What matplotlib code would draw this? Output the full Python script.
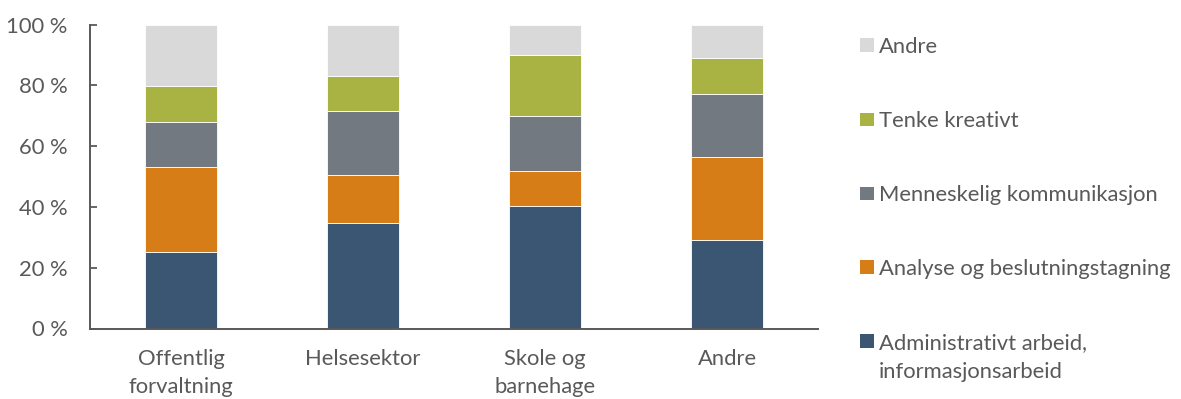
import matplotlib
matplotlib.use("Agg")
import matplotlib.pyplot as plt
import numpy as np
from matplotlib.patches import Rectangle

plt.rcParams['font.family'] = ['Lato', 'DejaVu Sans']

categories = ["Offentlig\nforvaltning", "Helsesektor", "Skole og\nbarnehage", "Andre"]
series = ["Administrativt arbeid,\ninformasjonsarbeid", "Analyse og beslutningstagning",
          "Menneskelig kommunikasjon", "Tenke kreativt", "Andre"]
admin = [25.2, 34.8, 40.2, 29.0]
analyse = [28.0, 15.7, 11.7, 27.5]
menneskelig = [14.9, 21.2, 18.0, 20.6]
kreativt = [11.8, 11.4, 20.2, 12.0]
andre = [20.1, 16.9, 9.9, 10.9]
values = [admin, analyse, menneskelig, kreativt, andre]
colors = ["#3A5673", "#D77D17", "#737980", "#A8B343", "#D9D9D9"]

txt = "#595959"
fs = 15.8

fig = plt.figure(figsize=(11.81, 3.99), dpi=100)
ax = fig.add_axes([90/1181, 70.5/399, 728/1181, 303.8/399])

x = np.arange(len(categories))
bottom = np.zeros(len(categories))
for vals, col in zip(values, colors):
    ax.bar(x, vals, width=0.4, bottom=bottom, color=col, edgecolor="white", linewidth=0.6)
    bottom += np.array(vals)

ax.set_xlim(-0.5, 3.5)
ax.set_ylim(0, 100)
ax.set_yticks(np.arange(0, 101, 20))
ax.set_yticklabels([f"{v} %" for v in range(0, 101, 20)])
ax.set_xticks(x)
ax.set_xticklabels(categories, linespacing=1.45)
ax.tick_params(axis="y", direction="in", length=5, width=1.3, color=txt, pad=16,
               labelsize=fs, labelcolor=txt)
ax.tick_params(axis="x", length=0, pad=15, labelsize=fs, labelcolor=txt)
for s in ["top", "right"]:
    ax.spines[s].set_visible(False)
for s in ["left", "bottom"]:
    ax.spines[s].set_color(txt)
    ax.spines[s].set_linewidth(1.4)

# legend, top entry first
W, H = 1181, 399
ys = [341, 267, 193.3, 119.3, 45]
for label, col, yc in zip(series, colors, ys):
    fig.add_artist(Rectangle((860/W, (H - yc - 6.8)/H), 13.6/W, 13.6/H,
                             transform=fig.transFigure, color=col, lw=0))
    for i, line in enumerate(label.split("\n")):
        fig.text(879/W, (H - yc - 29*i)/H, line, fontsize=fs, color=txt,
                 ha="left", va="center_baseline")

fig.savefig("out.png", dpi=100)
